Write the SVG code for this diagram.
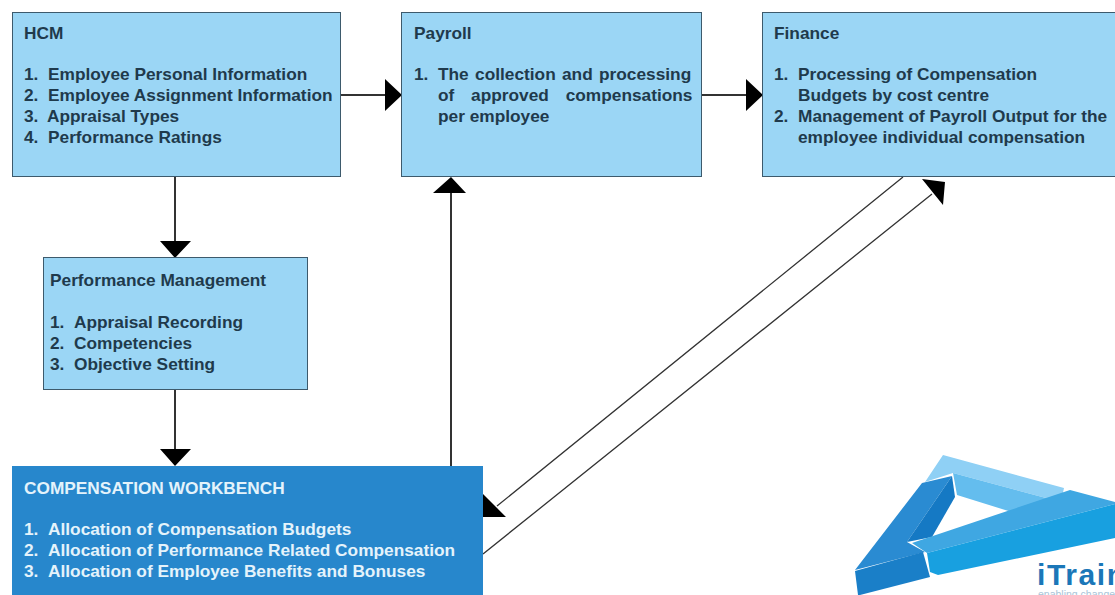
<svg xmlns="http://www.w3.org/2000/svg" width="1115" height="595" viewBox="0 0 1115 595">
<style>
.b{fill:#9bd6f5;stroke:#3d5a6c;stroke-width:1}
.d{fill:#2787cc}
text{font-family:"Liberation Sans",Arial,sans-serif;font-weight:700;font-size:17.3px;fill:#1f3a4c}
text.w{fill:#e4f3fb}
.c{stroke:#333;fill:none}
.h{fill:#000}
text.s{font-weight:400;font-size:10.5px;fill:#a9c4d8}
text.t{font-size:30px;letter-spacing:1.6px;fill:#1b77b8}
</style>
<rect width="1115" height="595" fill="#fff"/>
<g id="connectors">
<path class="c" stroke-width="2" d="M340 95H388M702 95H748M175 177V242M175 390V451M451 466V192"/>
<path class="c" stroke-width="1.3" d="M903 177L497 506M483 554L932 194"/>
<path class="h" d="M402 95L385 79V111ZM763 95L746 79V111ZM175 258L160 241H191ZM175 466L160 449H191ZM451 177L433 193H466Z"/>
<path class="h" d="M483 517V494L506 517ZM945 182L922 179L943 205Z"/>
</g>
<g id="hcm"><rect class="b" x="12.500" y="12.500" width="328" height="164"/>
<text x="24" y="38.500">HCM</text>
<text x="24" y="80">1.</text><text x="48" y="80">Employee Personal Information</text>
<text x="24" y="101">2.</text><text x="48" y="101">Employee Assignment Information</text>
<text x="24" y="122">3.</text><text x="47" y="122">Appraisal Types</text>
<text x="24" y="143">4.</text><text x="48" y="143">Performance Ratings</text></g>
<g id="payroll"><rect class="b" x="401.500" y="12.500" width="300" height="164"/>
<text x="414" y="38.500">Payroll</text>
<text x="414" y="80">1.</text><text x="438" y="80" word-spacing="1.5">The collection and processing</text>
<text x="438" y="101" word-spacing="12">of approved compensations</text>
<text x="438" y="122">per employee</text></g>
<g id="finance"><rect class="b" x="762.500" y="12.500" width="360" height="164"/>
<text x="774" y="38.500">Finance</text>
<text x="774" y="80">1.</text><text x="798" y="80">Processing of Compensation</text>
<text x="798" y="101">Budgets by cost centre</text>
<text x="774" y="122">2.</text><text x="798" y="122">Management of Payroll Output for the</text>
<text x="798" y="143">employee individual compensation</text></g>
<g id="performance-management"><rect class="b" x="43.500" y="257.500" width="264" height="132"/>
<text x="50" y="286">Performance Management</text>
<text x="50" y="328">1.</text><text x="74" y="328">Appraisal Recording</text>
<text x="50" y="349">2.</text><text x="74" y="349">Competencies</text>
<text x="50" y="370">3.</text><text x="74" y="370">Objective Setting</text></g>
<g id="compensation-workbench"><rect class="d" x="12" y="466" width="471" height="129"/>
<text class="w" x="24" y="494">COMPENSATION WORKBENCH</text>
<text class="w" x="24" y="535">1.</text><text class="w" x="48" y="535">Allocation of Compensation Budgets</text>
<text class="w" x="24" y="556">2.</text><text class="w" x="48" y="556">Allocation of Performance Related Compensation</text>
<text class="w" x="24" y="577">3.</text><text class="w" x="48" y="577">Allocation of Employee Benefits and Bonuses</text></g>
<g id="logo">
<path fill="#8fd0f5" d="M943 455L1064 488L1061 502L953 473L925 482Z"/>
<path fill="#64bdee" d="M953 473L1061 502L1067 497L1018 514L957 495Z"/>
<path fill="#2a8bd2" d="M922 483L952 476L907 542L925 552L855 570Z"/>
<path fill="#1579c4" d="M952 476L955 497L932 537L907 542Z"/>
<path fill="#1a7fc8" d="M855 571L923 552L930 577L860 595H858Z"/>
<path fill="#3fa7e2" d="M912 543L1070 490L1115 502V504L927 553Z"/>
<path fill="#18a0e0" d="M927 553L1115 504V538L938 575L930 572Z"/>
<text class="t" x="1037" y="585">iTrain</text>
<text class="s" x="1038" y="598">enabling change</text>
</g>
</svg>
